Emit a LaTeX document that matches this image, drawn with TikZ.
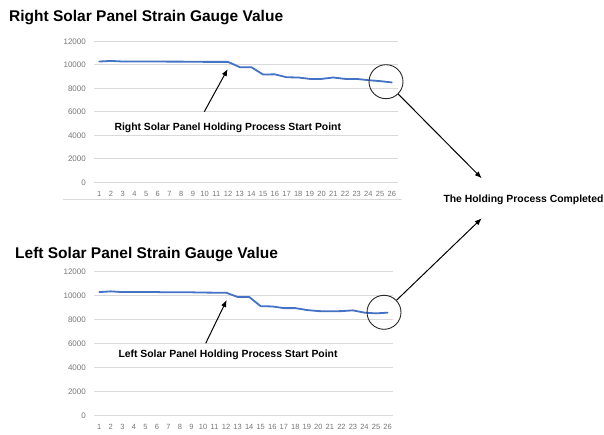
\documentclass[tikz,border=0pt]{standalone}
\usepackage{fontspec}
\setmainfont{Liberation Sans}
\usetikzlibrary{arrows.meta}
\definecolor{seriesblue}{RGB}{68,114,196}
\definecolor{gridgray}{RGB}{217,217,217}
\definecolor{ticktext}{RGB}{118,118,118}
\definecolor{ringgray}{RGB}{40,40,40}
\begin{document}
\begin{tikzpicture}[x=1pt,y=-1pt,
  grid/.style={gridgray, line width=0.8pt},
  ticklabel/.style={text=ticktext, font=\fontsize{8}{9}\selectfont, inner sep=0pt},
  xticklabel/.style={text=ticktext, font=\fontsize{7.5}{9}\selectfont, inner sep=0pt},
  series/.style={seriesblue, line width=1.8pt, line join=round, line cap=round},
  charttitle/.style={font=\bfseries\fontsize{15.5}{18}\selectfont, inner sep=0pt, anchor=base west},
  annot/.style={font=\bfseries\fontsize{10.4}{12}\selectfont, inner sep=0pt, anchor=base west},
  ring/.style={circle, draw=ringgray, line width=0.9pt, minimum size=34pt, inner sep=0pt},
  pointer/.style={-{Latex[length=7pt,width=5.5pt]}, line width=1pt, black}]

\useasboundingbox (0,0) rectangle (604,435);

% ---------- right panel chart ----------
\node[charttitle] (titleR) at (9,21.7) {Right Solar Panel Strain Gauge Value};
\foreach \k in {0,...,6} {
  \pgfmathsetmacro\yy{182.3-23.5*\k}
  \pgfmathtruncatemacro\val{2000*\k}
  \draw[grid] (94,\yy) -- (398,\yy);
  \node[ticklabel, anchor=east] (ryl\k) at (86,\yy) {\val};
}
\foreach \i in {1,...,26}
  \node[xticklabel] (rxl\i) at (87.6+11.7*\i,194) {\i};
\draw[grid] (63,199) -- (402,199);
\draw[series] (99.3,182.3-0.01175*10280)
  \foreach \i/\v in {2/10330,3/10280,4/10280,5/10280,6/10280,7/10270,8/10270,
    9/10260,10/10250,11/10250,12/10250,13/9800,14/9800,15/9170,16/9190,
    17/8940,18/8920,19/8800,20/8800,21/8920,22/8800,23/8800,24/8690,
    25/8610,26/8500} { -- (87.6+11.7*\i,182.3-0.01175*\v) };

% ---------- left panel chart ----------
\node[charttitle] (titleL) at (15,258.3) {Left Solar Panel Strain Gauge Value};
\foreach \k in {0,...,6} {
  \pgfmathsetmacro\yy{415.3-23.93*\k}
  \pgfmathtruncatemacro\val{2000*\k}
  \draw[grid] (94,\yy) -- (393,\yy);
  \node[ticklabel, anchor=east] (lyl\k) at (86,\yy) {\val};
}
\foreach \i in {1,...,26}
  \node[xticklabel] (lxl\i) at (87.77+11.53*\i,427.3) {\i};
\draw[series] (99.3,415.3-0.011967*10300)
  \foreach \i/\v in {2/10360,3/10300,4/10300,5/10300,6/10300,7/10280,8/10280,
    9/10280,10/10260,11/10250,12/10250,13/9890,14/9890,15/9120,16/9100,
    17/8960,18/8960,19/8800,20/8710,21/8690,22/8710,23/8770,24/8580,
    25/8520,26/8580} { -- (87.77+11.53*\i,415.3-0.011967*\v) };

% ---------- annotations ----------
\node[annot] (startR) at (114.3,130.7) {Right Solar Panel Holding Process Start Point};
\node[annot] (startL) at (118.3,357.7) {Left Solar Panel Holding Process Start Point};
\node[annot] (done) at (443.3,202.7) {The Holding Process Completed};

\node[ring] (endR) at (386,81.7) {};
\node[ring] (endL) at (384,312.3) {};

\coordinate (tailR) at (204.3,111.7);
\coordinate (tipR) at (227.7,69);
\coordinate (tailL) at (205.7,343.3);
\coordinate (tipL) at (226.7,300);
\coordinate (doneTop) at (481.7,178.3);
\coordinate (doneBottom) at (481.7,218.3);

\draw[pointer] (tailR) -- (tipR);
\draw[pointer] (tailL) -- (tipL);
\draw[pointer] (endR) -- (doneTop);
\draw[pointer] (endL) -- (doneBottom);
\end{tikzpicture}
\end{document}
